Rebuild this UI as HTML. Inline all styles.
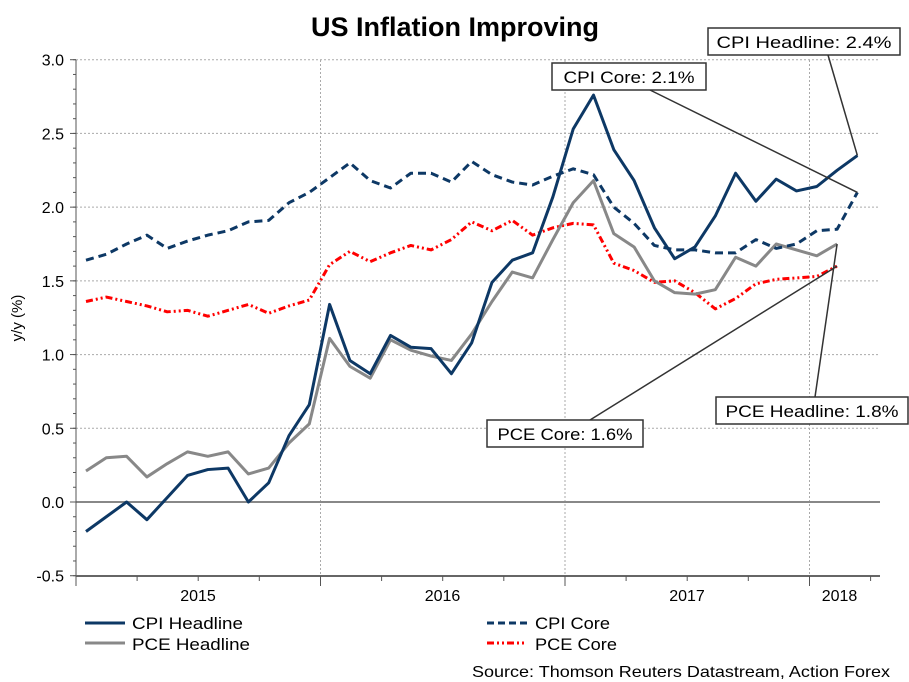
<!DOCTYPE html>
<html><head><meta charset="utf-8"><style>
body{margin:0;background:#fff;}
svg{display:block;font-family:"Liberation Sans",Arial,sans-serif;}
</style></head><body>
<svg id="chart" width="909" height="682" viewBox="0 0 909 682">
<text x="455" y="36" text-anchor="middle" font-size="27" font-weight="bold">US Inflation Improving</text>
<g id="grid"></g><g id="axes"></g><g id="series"></g><g id="notes"></g>
<text transform="translate(22,318) rotate(-90)" text-anchor="middle" font-size="15">y/y (%)</text>
<g>
<line x1="85" y1="623" x2="125" y2="623" stroke="#0d3865" stroke-width="3"/>
<text x="132" y="629" font-size="17" textLength="111" lengthAdjust="spacingAndGlyphs">CPI Headline</text>
<line x1="85" y1="643" x2="125" y2="643" stroke="#888" stroke-width="3"/>
<text x="132" y="650" font-size="17" textLength="118" lengthAdjust="spacingAndGlyphs">PCE Headline</text>
<line x1="487" y1="623" x2="527" y2="623" stroke="#0d3865" stroke-width="3" stroke-dasharray="7,4"/>
<text x="535" y="629" font-size="17" textLength="75" lengthAdjust="spacingAndGlyphs">CPI Core</text>
<line x1="487" y1="643" x2="527" y2="643" stroke="#f00" stroke-width="3" stroke-dasharray="7,3,2,3,2,3"/>
<text x="535" y="650" font-size="17" textLength="82" lengthAdjust="spacingAndGlyphs">PCE Core</text>
</g>
<text x="472" y="677" font-size="16" textLength="418" lengthAdjust="spacingAndGlyphs">Source: Thomson Reuters Datastream, Action Forex</text>
</svg>
<script>
const cpiHeadline=[-0.2,-0.1,0.0,-0.12,0.03,0.18,0.22,0.23,0.0,0.13,0.45,0.66,1.34,0.96,0.87,1.13,1.05,1.04,0.87,1.08,1.49,1.64,1.69,2.07,2.53,2.76,2.39,2.18,1.86,1.65,1.73,1.94,2.23,2.04,2.19,2.11,2.14,2.25,2.35];
const cpiCore=[1.64,1.68,1.75,1.81,1.72,1.77,1.81,1.84,1.9,1.91,2.03,2.1,2.2,2.3,2.18,2.13,2.23,2.23,2.17,2.31,2.22,2.17,2.15,2.21,2.26,2.22,2.0,1.89,1.74,1.71,1.71,1.69,1.69,1.78,1.72,1.75,1.84,1.85,2.1];
const pceHeadline=[0.21,0.3,0.31,0.17,0.26,0.34,0.31,0.34,0.19,0.23,0.4,0.53,1.11,0.92,0.84,1.1,1.03,0.99,0.96,1.14,1.36,1.56,1.52,1.78,2.03,2.18,1.82,1.73,1.5,1.42,1.41,1.44,1.66,1.6,1.75,1.71,1.67,1.75];
const pceCore=[1.36,1.39,1.36,1.33,1.29,1.3,1.26,1.3,1.34,1.28,1.33,1.37,1.61,1.7,1.63,1.69,1.74,1.71,1.78,1.9,1.84,1.91,1.81,1.86,1.89,1.88,1.62,1.57,1.49,1.5,1.42,1.31,1.38,1.48,1.51,1.52,1.53,1.6];
const yTicks=[-0.5,0.0,0.5,1.0,1.5,2.0,2.5,3.0];
const years=["2015","2016","2017","2018"];
const NS="http://www.w3.org/2000/svg";
const L=76,R=880,T=60,B=576,M0=76,MW=20.3;
function yS(v){return 502-(v)*147.43;}
function xS(i){return 86+MW*i;}
function mk(tag,attrs,parent){const e=document.createElementNS(NS,tag);for(const k in attrs)e.setAttribute(k,attrs[k]);parent.appendChild(e);return e;}
const grid=document.getElementById('grid'),axes=document.getElementById('axes'),series=document.getElementById('series'),notes=document.getElementById('notes');
yTicks.forEach(v=>{
 const y=yS(v);
 if(v!==0&&v!==-0.5){const g=mk('line',{x1:L,x2:R,y1:y,y2:y,stroke:'#aaa','stroke-dasharray':'2,2'},grid);
 
 }
 const t=mk('text',{x:64,y:y+6,'text-anchor':'end','font-size':16},axes);t.textContent=v.toFixed(1);
 
 
 mk('line',{x1:L-6,x2:L,y1:y,y2:y,stroke:'#555'},axes);
});
for(let v=-0.5;v<=3.0001;v+=0.1){mk('line',{x1:L-3,x2:L,y1:yS(v),y2:yS(v),stroke:'#555'},axes);}
const zl=mk('line',{x1:L,x2:R,y1:yS(0),y2:yS(0),stroke:'#888','stroke-width':2},axes);


mk('line',{x1:L,x2:L,y1:T,y2:B,stroke:'#555'},axes);
mk('line',{x1:L,x2:R,y1:B,y2:B,stroke:'#666','stroke-width':2},axes);
years.forEach((yr,k)=>{
 const x=M0+244.5*k;
 if(k>0){const g=mk('line',{x1:x,x2:x,y1:T,y2:B,stroke:'#aaa','stroke-dasharray':'2,2'},grid);
 
 }
 mk('line',{x1:x,x2:x,y1:B,y2:B+10,stroke:'#555'},axes);
 for(let q=1;q<4;q++){const xq=x+61.1*q;if(xq<R)mk('line',{x1:xq,x2:xq,y1:B,y2:B+5,stroke:'#555'},axes);}
 const cx=k<3?x+122:x+30;
 const t=mk('text',{x:cx,y:B+25,'text-anchor':'middle','font-size':16},axes);t.textContent=yr;
 
 
});
function line(data,color,dash,name){
 const p=mk('polyline',{points:data.map((v,i)=>xS(i)+','+yS(v)).join(' '),fill:'none',stroke:color,'stroke-width':3,'stroke-linejoin':'round'},series);
 if(dash)p.setAttribute('stroke-dasharray',dash);
 
 
}
line(pceCore,'#f00','7,3,2,3,2,3','pce-core-line');
line(pceHeadline,'#888',null,'pce-headline-line');
line(cpiCore,'#0d3865','8,5','cpi-core-line');
line(cpiHeadline,'#0d3865',null,'cpi-headline-line');
function note(text,bx,by,bw,tl,lx,ly,data,name){
 const i=data.length-1;
 mk('line',{x1:lx,y1:ly,x2:xS(i),y2:yS(data[i]),stroke:'#333','stroke-width':1.5},notes);
 const r=mk('rect',{x:bx,y:by,width:bw,height:27,fill:'#fff',stroke:'#333','stroke-width':1.5},notes);
 
 
 const t=mk('text',{x:bx+(bw-tl)/2,y:by+20,'font-size':17,textLength:tl,lengthAdjust:'spacingAndGlyphs'},notes);t.textContent=text;
 
 
}
note('CPI Headline: 2.4%',708,28,192,175,828,55,cpiHeadline,'cpi-headline-note');
note('CPI Core: 2.1%',552,63,154,131,650,90,cpiCore,'cpi-core-note');
note('PCE Core: 1.6%',487,420,156,135,590,420,pceCore,'pce-core-note');
note('PCE Headline: 1.8%',716,397,192,173,815,397,pceHeadline,'pce-headline-note');
</script>
</body></html>
